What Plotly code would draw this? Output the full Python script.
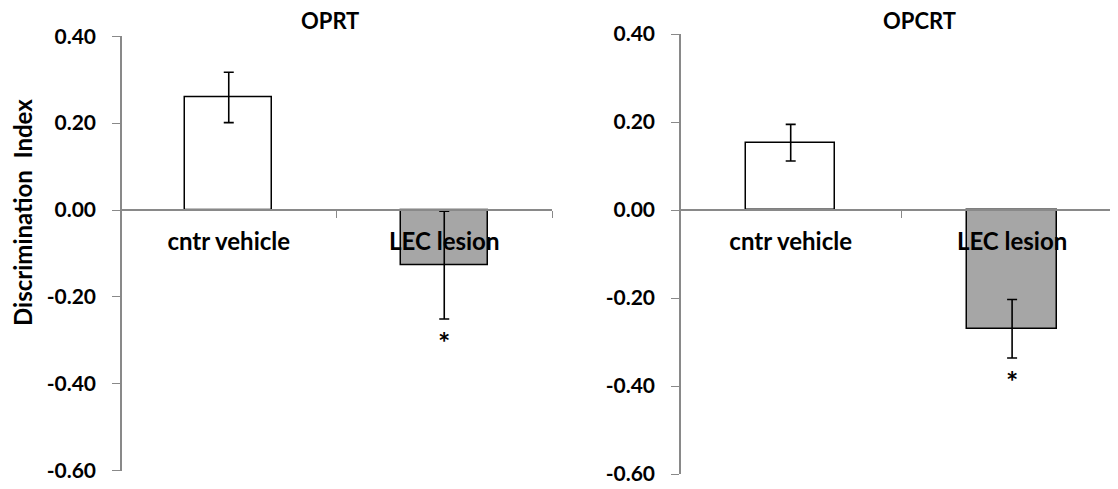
import plotly.graph_objects as go

categories = ["cntr vehicle", "LEC lesion"]
titles = ["OPRT", "OPCRT"]
oprt_values = [0.259, -0.127]
oprt_errors = [0.058, 0.124]
opcrt_values = [0.153, -0.27]
opcrt_errors = [0.0415, 0.0665]
bar_colors = ["#ffffff", "#a6a6a6"]
y_ticks = [0.4, 0.2, 0.0, -0.2, -0.4, -0.6]
y_ticktext = ["0.40", "0.20", "0.00", "-0.20", "-0.40", "-0.60"]

W, H = 1118, 489
OFF = 8  # page body margin
FONT = "Lato"
AX = "#898989"
BOLD = "bold"

def px_x(p):
    return (p - OFF) / W

def px_y(p):
    return 1 - (p - OFF) / H

fig = go.Figure()

panels = [
    dict(vals=oprt_values, errs=oprt_errors, xd=[px_x(121), px_x(552)], yd=[px_y(470.7), px_y(36.2)],
         xr=[-0.5, 1.5], minor=[0.5, 1.5], title_x=px_x(329.5)),
    dict(vals=opcrt_values, errs=opcrt_errors, xd=[px_x(680), 1.0], yd=[px_y(474), px_y(34)],
         xr=[-0.5, -0.5 + (W + OFF - 680) / 221.4], minor=[0.5], title_x=px_x(919)),
]

xpos = list(range(len(categories)))
annotations = []
for i, p in enumerate(panels):
    xa = "x" if i == 0 else "x2"
    ya = "y" if i == 0 else "y2"
    fig.add_trace(go.Bar(
        x=xpos, y=p["vals"], width=0.404,
        marker=dict(color=bar_colors, line=dict(color="#000000", width=1.5)),
        error_y=dict(type="data", array=p["errs"], visible=True, color="#000000", thickness=1.6, width=5),
        xaxis=xa, yaxis=ya, showlegend=False, hoverinfo="skip",
    ))
    y0, y1 = p["yd"]
    zero_pos = y0 + (0 - (-0.6)) / (0.4 - (-0.6)) * (y1 - y0)
    suffix = "" if i == 0 else "2"
    fig.layout["xaxis" + suffix] = dict(
        domain=p["xd"], range=p["xr"], anchor="free", position=zero_pos,
        showline=True, linecolor=AX, linewidth=1.5, automargin=False,
        tickvals=xpos, ticktext=categories, ticks="", ticklen=0, ticklabelstandoff=10,
        tickfont=dict(family=FONT, size=24, color="#000000", weight=BOLD),
        minor=dict(tickvals=p["minor"], ticks="outside", ticklen=7, tickcolor=AX, tickwidth=1.2),
        showgrid=False, zeroline=False, fixedrange=True,
    )
    fig.layout["yaxis" + suffix] = dict(
        domain=p["yd"], range=[-0.6, 0.4], anchor="free",
        position=p["xd"][0], automargin=False,
        showline=True, linecolor=AX, linewidth=1.5,
        tickvals=y_ticks, ticktext=y_ticktext, ticks="outside", ticklen=8,
        tickcolor=AX, tickwidth=1.2, ticklabelstandoff=12,
        tickfont=dict(family=FONT, size=21, color="#000000", weight=BOLD),
        showgrid=False, zeroline=False, fixedrange=True,
    )
    annotations.append(dict(
        text=titles[i], x=p["title_x"], y=px_y(20.5), xref="paper", yref="paper",
        showarrow=False, font=dict(family=FONT, size=22, color="#000000", weight=BOLD),
        xanchor="center", yanchor="middle",
    ))
    annotations.append(dict(
        text="*", x=xpos[1], y=p["vals"][1] - p["errs"][1], xref=xa, yref=ya,
        showarrow=False, font=dict(family=FONT, size=29, color="#000000", weight=BOLD),
        xanchor="center", yanchor="middle", yshift=-22,
    ))

annotations.append(dict(
    text="Discrimination  Index", x=px_x(22), y=px_y(213), xref="paper", yref="paper",
    showarrow=False, textangle=-90, font=dict(family=FONT, size=24, color="#000000", weight=BOLD),
    xanchor="center", yanchor="middle",
))

fig.update_layout(
    template="none",
    width=W, height=H, margin=dict(l=0, r=0, t=0, b=0, autoexpand=False),
    paper_bgcolor="#ffffff", plot_bgcolor="#ffffff",
    annotations=annotations, bargap=0,
    font=dict(family=FONT, color="#000000"),
)

fig.write_html("out.html")
